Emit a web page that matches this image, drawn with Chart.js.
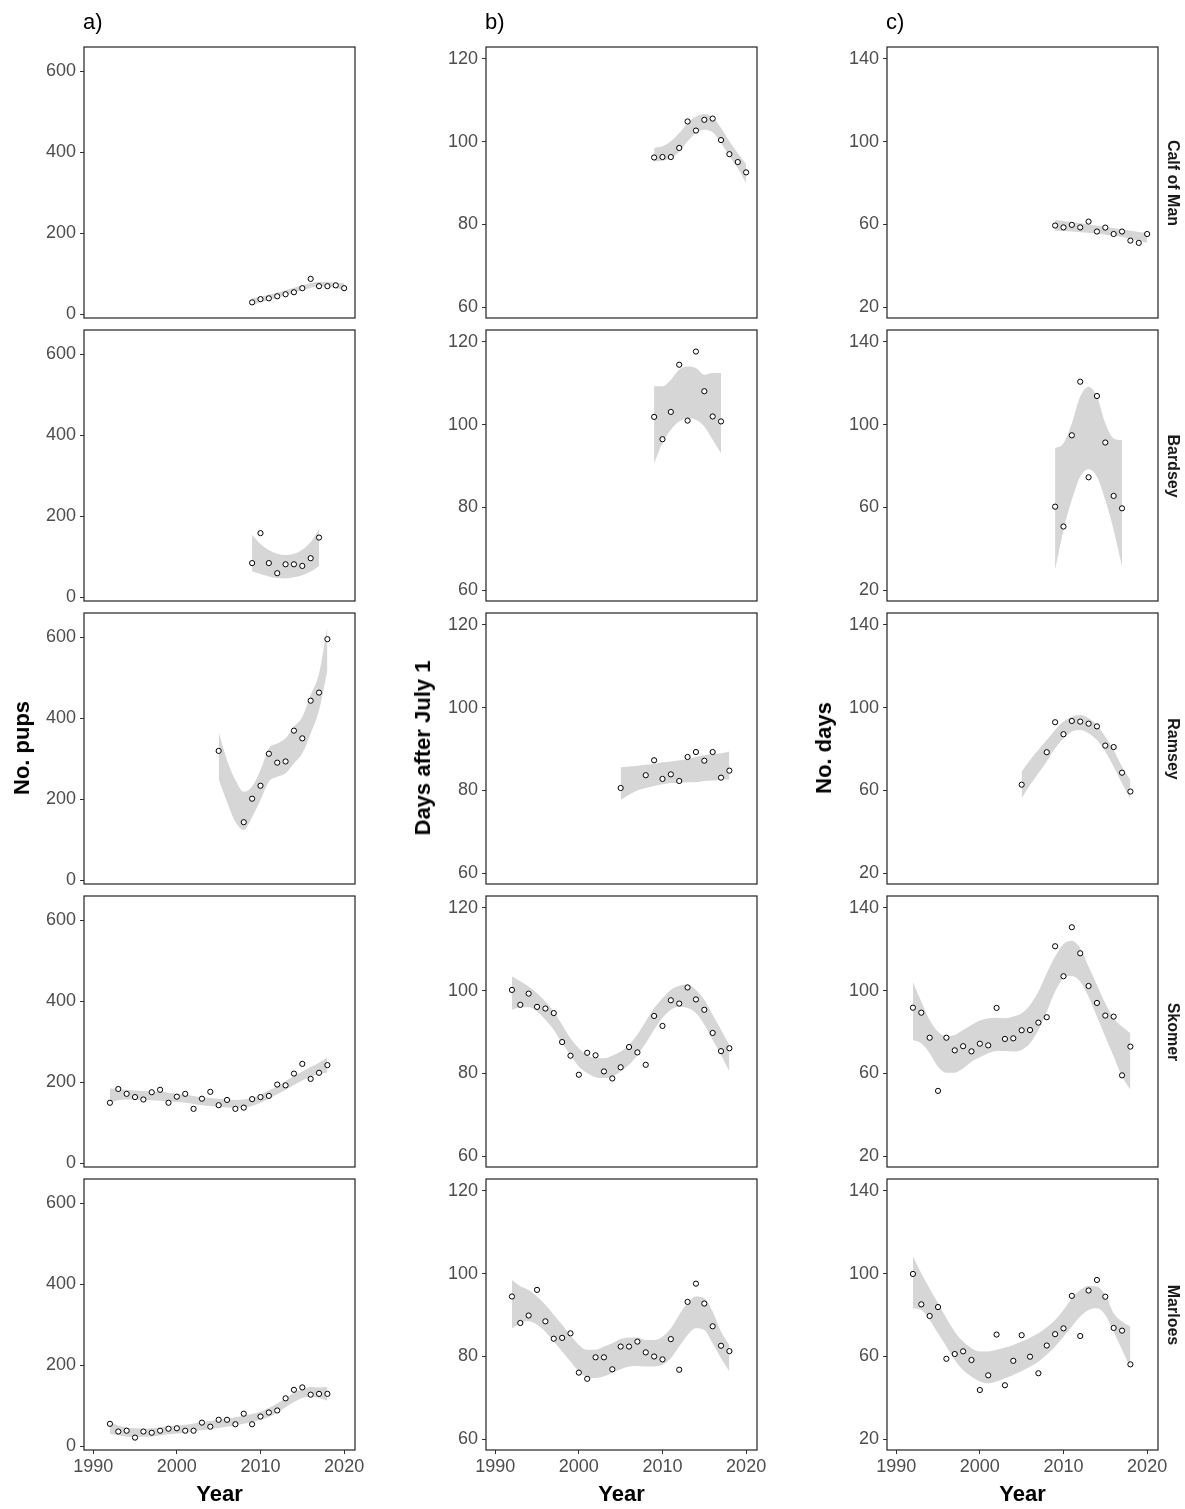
<!DOCTYPE html>
<html>
<head>
<meta charset="utf-8">
<script src="https://cdn.jsdelivr.net/npm/chart.js@4.4.0/dist/chart.umd.min.js"></script>
<style>
  body { margin: 0; background: #fff; width: 1185px; height: 1509px; position: relative; overflow: hidden;
         font-family: "Liberation Sans", Arial, sans-serif; }
  canvas { position: absolute; }
  .txt { position: absolute; white-space: nowrap; color: #000; line-height: 1; }
  .tag { font-size: 22px; }
  .ytitle { font-size: 22px; font-weight: bold; transform: translate(-50%, -50%) rotate(-90deg); }
  .xtitle { font-size: 22px; font-weight: bold; transform: translate(-50%, -50%); }
  .strip { font-size: 16px; font-weight: bold; color: #1a1a1a; transform: translate(-50%, -50%) rotate(90deg); }
</style>
</head>
<body>
<script>
// ---- axes ----
const xTicks = [1990, 2000, 2010, 2020];
const pupTicks = [0, 200, 400, 600];
const dateTicks = [60, 80, 100, 120];
const durTicks = [20, 60, 100, 140];

const siteNames = ['Calf of Man', 'Bardsey', 'Ramsey', 'Skomer', 'Marloes'];
const panelTags = ['a)', 'b)', 'c)'];
const yTitles = ['No. pups', 'Days after July 1', 'No. days'];

// ---- years ----
const yearsCalf = [2009, 2010, 2011, 2012, 2013, 2014, 2015, 2016, 2017, 2018, 2019, 2020];
const yearsBardsey = [2009, 2010, 2011, 2012, 2013, 2014, 2015, 2016, 2017];
const yearsRamsey = [2005, 2008, 2009, 2010, 2011, 2012, 2013, 2014, 2015, 2016, 2017, 2018];
const bandYearsRamsey = [2005, 2006, 2007, 2008, 2009, 2010, 2011, 2012, 2013, 2014, 2015, 2016, 2017, 2018];
const yearsLong = [1992, 1993, 1994, 1995, 1996, 1997, 1998, 1999, 2000, 2001, 2002, 2003, 2004, 2005,
                   2006, 2007, 2008, 2009, 2010, 2011, 2012, 2013, 2014, 2015, 2016, 2017, 2018];

// ---- Calf of Man ----
const calfPups   = [30, 38, 40, 45, 50, 55, 65, 88, 70, 70, 72, 65];
const calfPupsHi = [40, 44, 49, 54, 60, 66, 72, 78, 81, 80, 79, 77];
const calfPupsLo = [22, 30, 35, 42, 48, 54, 60, 66, 69, 68, 65, 61];
const calfDate   = [96.2, 96.3, 96.3, 98.5, 104.9, 102.7, 105.3, 105.6, 100.4, 97.0, 95.1, 92.6];
const calfDateHi = [98.5, 98.9, 100.1, 102.1, 104.5, 106.1, 106.7, 105.9, 103.3, 100.1, 97.2, 94.6];
const calfDateLo = [95.2, 95.4, 96.0, 97.6, 100.1, 102.1, 102.9, 102.3, 99.7, 96.5, 93.6, 90.0];
const calfDays   = [59.5, 58.6, 59.8, 58.6, 61.4, 56.6, 58.5, 55.4, 56.6, 52.2, 51.1, 55.4];
const calfDaysHi = [62.2, 61.7, 61.2, 60.6, 60.0, 59.4, 58.8, 58.2, 57.6, 57.0, 56.4, 55.8];
const calfDaysLo = [57.0, 56.8, 56.6, 56.3, 56.0, 55.6, 55.1, 54.5, 53.9, 53.1, 52.2, 51.2];

// ---- Bardsey ----
const bardseyPups   = [85, 159, 85, 60, 82, 82, 78, 97, 148];
const bardseyPupsHi = [155, 132, 117, 108, 105, 108, 118, 137, 168];
const bardseyPupsLo = [65, 58, 52, 48, 47, 50, 55, 64, 78];
const bardseyDate   = [101.9, 96.5, 103.1, 114.5, 101.0, 117.7, 108.1, 102.0, 100.8];
const bardseyDateHi = [109.3, 109.3, 110.9, 113.3, 114.1, 113.7, 112.1, 112.5, 112.5];
const bardseyDateLo = [90.7, 95.6, 98.8, 100.8, 101.6, 101.2, 99.6, 96.4, 93.1];
const bardseyDays   = [60.4, 50.8, 94.9, 120.8, 74.6, 113.9, 91.4, 65.6, 59.6];
const bardseyDaysHi = [88.6, 91.0, 100.7, 113.6, 118.4, 113.6, 100.7, 93.4, 92.6];
const bardseyDaysLo = [30.0, 49.1, 63.7, 74.9, 78.5, 74.9, 63.7, 49.1, 31.4];

// ---- Ramsey ----
const ramseyPups   = [320, 144, 202, 234, 313, 291, 294, 370, 351, 444, 464, 596];
const ramseyPupsHi = [367, 297, 248, 219, 232, 273, 326, 338, 351, 380, 404, 458, 511, 627];
const ramseyPupsLo = [250, 194, 145, 125, 157, 199, 244, 256, 265, 289, 314, 363, 421, 520];
const ramseyDate   = [80.6, 83.7, 87.3, 82.8, 83.9, 82.3, 88.1, 89.3, 87.2, 89.3, 83.1, 84.8];
const ramseyDateHi = [85.6, 85.8, 86.0, 86.2, 86.4, 86.8, 87.0, 87.3, 87.6, 88.1, 88.5, 88.8, 89.0, 89.4];
const ramseyDateLo = [77.7, 79.0, 80.0, 80.6, 81.1, 81.5, 81.8, 81.9, 82.0, 82.0, 82.3, 82.4, 82.6, 82.7];
const ramseyDays   = [62.8, 78.5, 93.0, 87.2, 93.6, 93.3, 92.3, 91.0, 81.7, 81.0, 68.6, 59.5];
const ramseyDaysHi = [69.1, 74.8, 79.6, 84.4, 89.3, 93.3, 95.7, 96.5, 94.9, 91.7, 86.0, 79.6, 71.5, 65.1];
const ramseyDaysLo = [56.2, 62.7, 68.3, 74.0, 80.4, 85.2, 88.5, 89.3, 87.7, 84.4, 78.8, 71.5, 63.5, 55.8];

// ---- Skomer ----
const skomerPups   = [150, 184, 172, 164, 158, 176, 182, 150, 165, 172, 135, 160, 177, 144,
                      157, 135, 138, 159, 164, 167, 195, 193, 222, 246, 209, 224, 243];
const skomerPupsHi = [185, 184, 182, 180, 179, 178, 177, 175, 172, 170, 167, 164, 162, 160,
                      158, 157, 158, 162, 170, 180, 191, 204, 216, 227, 238, 249, 261];
const skomerPupsLo = [151, 156, 158, 158, 157, 156, 155, 153, 152, 150, 147, 144, 142, 140,
                      138, 137, 138, 142, 150, 160, 171, 182, 194, 205, 214, 221, 225];
const skomerDate   = [100.2, 96.6, 99.3, 96.1, 95.7, 94.6, 87.6, 84.3, 79.7, 85.0, 84.4, 80.5, 78.8, 81.5,
                      86.4, 85.1, 82.1, 93.9, 91.5, 97.7, 96.9, 100.8, 97.9, 95.4, 89.8, 85.4, 86.1];
const skomerDateHi = [103.5, 102.3, 101.0, 99.4, 97.4, 95.0, 91.8, 88.5, 86.1, 84.5, 83.7, 83.7, 84.3, 85.3,
                      86.9, 89.4, 92.6, 95.8, 98.2, 100.2, 101.2, 101.5, 100.2, 97.8, 94.2, 90.6, 86.9];
const skomerDateLo = [95.4, 96.0, 96.0, 95.0, 93.0, 90.6, 87.3, 84.5, 81.7, 80.1, 79.1, 78.9, 79.3, 80.5,
                      82.1, 84.5, 87.3, 90.6, 93.4, 95.4, 96.2, 95.8, 94.6, 91.8, 88.1, 84.5, 80.5];
const skomerDays   = [91.8, 89.4, 77.3, 51.6, 77.3, 71.2, 73.2, 70.7, 74.4, 73.6, 91.7, 76.7, 77.0, 80.9,
                      81.0, 84.6, 87.2, 121.5, 107.0, 130.7, 118.1, 102.3, 94.1, 88.0, 87.5, 59.1, 73.0];
const skomerDaysHi = [104.4, 94.7, 85.9, 80.2, 78.1, 78.6, 81.0, 83.5, 85.6, 86.7, 87.0, 86.7, 87.5, 89.1,
                      93.1, 99.6, 108.4, 116.5, 122.6, 124.2, 120.5, 111.7, 102.8, 93.9, 86.7, 82.7, 79.4];
const skomerDaysLo = [76.2, 74.6, 69.8, 63.3, 60.4, 60.4, 62.5, 65.7, 67.8, 69.8, 70.9, 70.9, 70.6, 71.4,
                      74.6, 81.0, 89.9, 99.6, 106.0, 107.1, 104.4, 97.1, 87.5, 77.8, 68.2, 58.5, 52.1];

// ---- Marloes ----
const marloesPups   = [56, 37, 39, 22, 37, 34, 39, 44, 45, 39, 39, 59, 49, 66,
                       66, 55, 81, 55, 74, 84, 89, 119, 140, 146, 128, 130, 130];
const marloesPupsHi = [61, 52, 47, 45, 44, 45, 47, 50, 52, 54, 57, 60, 63, 66,
                       69, 72, 76, 80, 86, 95, 106, 119, 132, 142, 147, 146, 147];
const marloesPupsLo = [31, 28, 25, 23, 24, 25, 27, 30, 32, 34, 37, 40, 43, 46,
                       49, 52, 56, 60, 66, 73, 84, 97, 110, 120, 123, 120, 113];
const marloesDate   = [94.5, 88.1, 89.9, 96.1, 88.5, 84.3, 84.5, 85.6, 76.1, 74.6, 79.8, 79.8, 76.9, 82.4,
                       82.4, 83.6, 81.0, 80.0, 79.3, 84.2, 76.8, 93.2, 97.6, 92.8, 87.3, 82.6, 81.3];
const marloesDateHi = [98.5, 97.0, 96.1, 94.5, 92.5, 90.1, 87.7, 85.2, 82.8, 81.6, 81.6, 82.4, 83.2, 84.2,
                       84.6, 84.6, 84.0, 84.0, 84.8, 86.8, 90.1, 92.9, 94.5, 94.1, 90.9, 86.0, 82.8];
const marloesDateLo = [86.8, 88.1, 88.5, 87.7, 86.0, 83.6, 81.2, 78.8, 76.4, 75.0, 74.8, 75.2, 76.1, 76.9,
                       77.6, 77.7, 77.6, 77.6, 78.0, 79.6, 82.4, 85.2, 86.8, 86.4, 83.2, 79.6, 76.4];
const marloesDays   = [99.9, 85.2, 79.6, 83.9, 58.9, 61.2, 62.5, 58.3, 43.8, 50.9, 70.6, 46.1, 57.9, 70.3,
                       59.9, 51.9, 65.3, 70.8, 73.6, 89.3, 69.9, 91.9, 97.0, 88.9, 73.8, 72.5, 56.2];
const marloesDaysHi = [108.3, 100.2, 92.9, 85.7, 78.5, 72.0, 67.2, 64.0, 62.4, 62.4, 63.2, 64.3, 65.6, 67.2,
                       69.1, 71.2, 74.1, 77.7, 82.5, 88.1, 92.2, 94.1, 93.8, 89.8, 80.9, 76.9, 74.5];
const marloesDaysLo = [83.3, 82.5, 77.7, 71.2, 64.8, 58.3, 53.5, 50.3, 47.9, 47.1, 47.9, 49.5, 51.1, 53.0,
                       55.1, 57.5, 60.8, 64.8, 69.6, 74.5, 79.3, 82.5, 83.3, 80.1, 72.0, 63.2, 54.3];

// ---- assemble rows ----
const sites = [
  { years: yearsCalf, band: yearsCalf,
    cols: [[calfPups, calfPupsLo, calfPupsHi], [calfDate, calfDateLo, calfDateHi], [calfDays, calfDaysLo, calfDaysHi]] },
  { years: yearsBardsey, band: yearsBardsey,
    cols: [[bardseyPups, bardseyPupsLo, bardseyPupsHi], [bardseyDate, bardseyDateLo, bardseyDateHi], [bardseyDays, bardseyDaysLo, bardseyDaysHi]] },
  { years: yearsRamsey, band: bandYearsRamsey,
    cols: [[ramseyPups, ramseyPupsLo, ramseyPupsHi], [ramseyDate, ramseyDateLo, ramseyDateHi], [ramseyDays, ramseyDaysLo, ramseyDaysHi]] },
  { years: yearsLong, band: yearsLong,
    cols: [[skomerPups, skomerPupsLo, skomerPupsHi], [skomerDate, skomerDateLo, skomerDateHi], [skomerDays, skomerDaysLo, skomerDaysHi]] },
  { years: yearsLong, band: yearsLong,
    cols: [[marloesPups, marloesPupsLo, marloesPupsHi], [marloesDate, marloesDateLo, marloesDateHi], [marloesDays, marloesDaysLo, marloesDaysHi]] }
];

const colAxes = [
  { min: -8.6, max: 660.5, ticks: pupTicks },
  { min: 57.4, max: 122.9, ticks: dateTicks },
  { min: 14.8, max: 145.8, ticks: durTicks }
];
const xMin = 1988.9, xMax = 2021.3;

// panel placement (px)
const colLeft = [84, 486, 887];
const rowTop = [47, 330, 613, 896, 1179];
const SIZE = 271;
const FONT = '"Liberation Sans", Arial, sans-serif';

const boxPlugin = {
  id: 'box',
  afterDatasetsDraw(chart) {
    const a = chart.chartArea, ctx = chart.ctx;
    ctx.save();
    ctx.strokeStyle = '#222';
    ctx.lineWidth = 1.2;
    ctx.strokeRect(a.left, a.top, a.right - a.left, a.bottom - a.top);
    ctx.restore();
  }
};

function makePanel(r, c) {
  const site = sites[r];
  const [vals, lo, hi] = site.cols[c];
  const last = r === sites.length - 1;
  const padL = 70, padT = 24, padR = 16, padB = 24, xH = 34;

  const cv = document.createElement('canvas');
  cv.width = padL + SIZE + padR;
  cv.height = padT + SIZE + padB + (last ? xH : 0);
  cv.style.left = (colLeft[c] - padL) + 'px';
  cv.style.top = (rowTop[r] - padT) + 'px';
  document.body.appendChild(cv);

  const ax = colAxes[c];
  new Chart(cv, {
    type: 'scatter',
    data: {
      datasets: [
        { data: site.years.map((x, i) => ({ x, y: vals[i] })),
          pointRadius: 2.6, pointBorderWidth: 1, pointBackgroundColor: '#fff', pointBorderColor: '#000', order: 0 },
        { data: site.band.map((x, i) => ({ x, y: lo[i] })),
          showLine: true, pointRadius: 0, borderWidth: 0, borderColor: 'rgba(0,0,0,0)',
          cubicInterpolationMode: 'monotone', fill: false, order: 1 },
        { data: site.band.map((x, i) => ({ x, y: hi[i] })),
          showLine: true, pointRadius: 0, borderWidth: 0, borderColor: 'rgba(0,0,0,0)',
          cubicInterpolationMode: 'monotone', fill: '-1', backgroundColor: 'rgb(214,214,214)', order: 2 }
      ]
    },
    options: {
      responsive: false,
      animation: false,
      events: [],
      layout: { padding: { left: 0, top: padT, right: padR, bottom: padB } },
      plugins: { legend: { display: false }, tooltip: { enabled: false } },
      scales: {
        x: {
          type: 'linear', min: xMin, max: xMax, display: last,
          afterBuildTicks: s => { s.ticks = xTicks.map(v => ({ value: v })); },
          afterFit: s => { s.height = last ? xH : 0; },
          border: { display: false },
          grid: { drawOnChartArea: false, drawTicks: true, tickLength: 4, color: '#333' },
          ticks: { color: '#4d4d4d', font: { size: 18, family: FONT }, padding: 2, maxRotation: 0,
                   callback: v => String(v) }
        },
        y: {
          min: ax.min, max: ax.max,
          afterBuildTicks: s => { s.ticks = ax.ticks.map(v => ({ value: v })); },
          afterFit: s => { s.width = padL; },
          border: { display: false },
          grid: { drawOnChartArea: false, drawTicks: true, tickLength: 4, color: '#333' },
          ticks: { color: '#4d4d4d', font: { size: 18, family: FONT }, padding: 4,
                   callback: v => String(v) }
        }
      }
    },
    plugins: [boxPlugin]
  });
}

for (let r = 0; r < sites.length; r++) {
  for (let c = 0; c < 3; c++) makePanel(r, c);
}

// ---- text ----
function addText(cls, text, x, y) {
  const d = document.createElement('div');
  d.className = 'txt ' + cls;
  d.textContent = text;
  d.style.left = x + 'px';
  d.style.top = y + 'px';
  document.body.appendChild(d);
}
const yTitleX = [22, 423, 824];
for (let c = 0; c < 3; c++) {
  addText('tag', panelTags[c], colLeft[c] - 1, 11);
  addText('ytitle', yTitles[c], yTitleX[c], 748);
  addText('xtitle', 'Year', colLeft[c] + SIZE / 2, 1494);
}
for (let r = 0; r < sites.length; r++) {
  addText('strip', siteNames[r], 1173, rowTop[r] + SIZE / 2);
}
</script>
</body>
</html>
